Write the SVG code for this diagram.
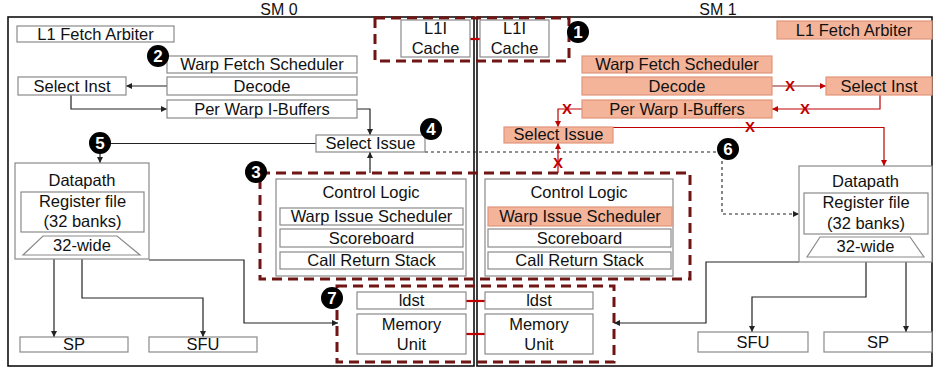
<svg xmlns="http://www.w3.org/2000/svg" width="933" height="370" viewBox="0 0 933 370">
<style>
text{font-family:"Liberation Sans",Arial,sans-serif;font-size:16.5px;fill:#111;text-anchor:middle}
.b{fill:#fff;stroke:#8a8a8a;stroke-width:1.2}
.s{fill:#F4B49A;stroke:#E0957A;stroke-width:1.2}
.frame{fill:none;stroke:#111;stroke-width:1.6}
.dash{fill:none;stroke:#701414;stroke-width:3;stroke-dasharray:10 6}
.c{fill:none;stroke:#222;stroke-width:1.2}
.r{fill:none;stroke:#C00000;stroke-width:1.2}
.rm{fill:none;stroke:#b06868;stroke-width:1.5}
.d{fill:none;stroke:#222;stroke-width:1.1;stroke-dasharray:3 3}
.link{stroke:#C00000;stroke-width:2.2}
.badge circle{fill:#000}
.badge text{fill:#fff;font-weight:bold;font-size:17px}
.x{fill:#C00000;font-weight:bold;font-size:15px}
.t{font-size:16px}
</style>
<defs>
<marker id="a" markerWidth="7" markerHeight="7" refX="6" refY="3" orient="auto" markerUnits="userSpaceOnUse"><path d="M0,0 L6,3 L0,6 z" fill="#222"/></marker>
<marker id="ar" markerWidth="7" markerHeight="7" refX="6" refY="3" orient="auto" markerUnits="userSpaceOnUse"><path d="M0,0 L6,3 L0,6 z" fill="#C00000"/></marker>
</defs>

<g id="frames">
<rect class="frame" x="8" y="17" width="466" height="349"/>
<rect class="frame" x="477" y="17" width="455" height="349"/>
<text class="t" x="279" y="15">SM 0</text>
<text class="t" x="718" y="15">SM 1</text>
</g>

<g id="groups">
<rect class="dash" x="375" y="18" width="194" height="43"/>
<rect class="dash" x="260" y="173" width="430" height="106"/>
<rect class="dash" x="337" y="286" width="277" height="76"/>
</g>

<g id="connectors">
<path class="c" d="M167,86 H126" marker-end="url(#a)"/>
<path class="c" d="M71,95 V109 H167" marker-end="url(#a)"/>
<path class="c" d="M357,109 H370 V135" marker-end="url(#a)"/>
<path class="c" d="M316,143.5 H100 V163" marker-end="url(#a)"/>
<path class="c" d="M370,173 V152" marker-end="url(#a)"/>
<path class="c" d="M54,259 V337" marker-end="url(#a)"/>
<path class="c" d="M82,259 V298 H203 V337" marker-end="url(#a)"/>
<path class="c" d="M149,260 H244 V323 H338" marker-end="url(#a)"/>
<path class="d" d="M425,152 H722 V214 H799" marker-end="url(#a)"/>
<path class="rm" d="M772,86 H826" marker-end="url(#ar)"/>
<path class="r" d="M880,95 V109 H772" marker-end="url(#ar)"/>
<path class="r" d="M582,109 H558 V127" marker-end="url(#ar)"/>
<path class="r" d="M613,127.5 H884 V166" marker-end="url(#ar)"/>
<path class="r" d="M558,173 V143" marker-end="url(#ar)"/>
<path class="c" d="M799,262 H706 V323 H614" marker-end="url(#a)"/>
<path class="c" d="M866,262 V297 H752 V332" marker-end="url(#a)"/>
<path class="c" d="M906,262 V332" marker-end="url(#a)"/>
<line class="link" x1="470" y1="39" x2="480" y2="39"/>
<line class="link" x1="466" y1="301" x2="485" y2="301"/>
<line class="link" x1="466" y1="334" x2="485" y2="334"/>
<text class="x" x="790" y="91">X</text>
<text class="x" x="805" y="114">X</text>
<text class="x" x="567" y="114">X</text>
<text class="x" x="750" y="132">X</text>
<text class="x" x="558" y="168">X</text>
</g>

<g id="sm0-l1-fetch-arbiter"><rect class="b" x="17" y="26" width="157" height="16"/><text x="95.5" y="40">L1 Fetch Arbiter</text></g>
<g id="sm0-l1i-cache"><rect class="b" x="401" y="20" width="69" height="37"/><text x="435.5" y="34">L1I</text><text x="435.5" y="54">Cache</text></g>
<g id="sm1-l1i-cache"><rect class="b" x="480" y="20" width="69" height="37"/><text x="514.5" y="34">L1I</text><text x="514.5" y="54">Cache</text></g>
<g id="sm0-warp-fetch"><rect class="b" x="167" y="56" width="190" height="17"/><text x="262" y="70">Warp Fetch Scheduler</text></g>
<g id="sm0-decode"><rect class="b" x="167" y="77" width="190" height="18"/><text x="262" y="92">Decode</text></g>
<g id="sm0-select-inst"><rect class="b" x="18" y="77" width="108" height="18"/><text x="72" y="92">Select Inst</text></g>
<g id="sm0-ibuffers"><rect class="b" x="167" y="100" width="190" height="18"/><text x="262" y="115">Per Warp I-Buffers</text></g>
<g id="sm0-select-issue"><rect class="b" x="316" y="135" width="109" height="17"/><text x="370.5" y="149">Select Issue</text></g>
<g id="sm0-datapath">
<rect class="b" x="15" y="163" width="134" height="96"/>
<text x="82" y="186">Datapath</text>
<rect class="b" x="21" y="192" width="123" height="40"/>
<text x="82.5" y="207">Register file</text>
<text x="82.5" y="227">(32 banks)</text>
<path class="b" d="M43,236 H117 L140,255 H23 Z"/>
<text x="82" y="251">32-wide</text>
</g>
<g id="sm0-sp"><rect class="b" x="20" y="337" width="108" height="15"/><text x="74" y="350">SP</text></g>
<g id="sm0-sfu"><rect class="b" x="149" y="337" width="108" height="15"/><text x="203" y="350">SFU</text></g>
<g id="sm0-control">
<rect class="b" x="276" y="179" width="190" height="97"/>
<text x="371" y="198">Control Logic</text>
<rect class="b" x="280" y="208" width="183" height="17"/><text x="371.5" y="222">Warp Issue Scheduler</text>
<rect class="b" x="280" y="229" width="183" height="18"/><text x="371.5" y="244">Scoreboard</text>
<rect class="b" x="280" y="252" width="183" height="17"/><text x="371.5" y="266">Call Return Stack</text>
</g>
<g id="sm0-ldst"><rect class="b" x="357" y="292" width="109" height="17"/><text x="411.5" y="306">ldst</text></g>
<g id="sm0-memory"><rect class="b" x="357" y="314" width="109" height="40"/><text x="411.5" y="330">Memory</text><text x="411.5" y="350">Unit</text></g>

<g id="sm1-l1-fetch-arbiter"><rect class="s" x="777" y="21" width="155" height="18"/><text x="854" y="36">L1 Fetch Arbiter</text></g>
<g id="sm1-warp-fetch"><rect class="s" x="582" y="56" width="190" height="17"/><text x="677" y="70">Warp Fetch Scheduler</text></g>
<g id="sm1-decode"><rect class="s" x="582" y="77" width="190" height="18"/><text x="677" y="92">Decode</text></g>
<g id="sm1-select-inst"><rect class="s" x="826" y="77" width="106" height="18"/><text x="879" y="92">Select Inst</text></g>
<g id="sm1-ibuffers"><rect class="s" x="582" y="100" width="190" height="18"/><text x="677" y="115">Per Warp I-Buffers</text></g>
<g id="sm1-select-issue"><rect class="s" x="504" y="127" width="109" height="16"/><text x="558.5" y="140">Select Issue</text></g>
<g id="sm1-control">
<rect class="b" x="485" y="179" width="188" height="97"/>
<text x="579" y="198">Control Logic</text>
<rect class="s" x="488" y="207" width="184" height="19"/><text x="580" y="222">Warp Issue Scheduler</text>
<rect class="b" x="488" y="229" width="183" height="18"/><text x="579.5" y="244">Scoreboard</text>
<rect class="b" x="488" y="252" width="183" height="17"/><text x="579.5" y="266">Call Return Stack</text>
</g>
<g id="sm1-datapath">
<rect class="b" x="799" y="166" width="133" height="96"/>
<text x="865.5" y="187">Datapath</text>
<rect class="b" x="804" y="193" width="124" height="41"/>
<text x="866" y="208">Register file</text>
<text x="866" y="229">(32 banks)</text>
<path class="b" d="M820,237 H910 L924,257 H807 Z"/>
<text x="865.5" y="252">32-wide</text>
</g>
<g id="sm1-sfu"><rect class="b" x="698" y="332" width="110" height="20"/><text x="753" y="348">SFU</text></g>
<g id="sm1-sp"><rect class="b" x="824" y="332" width="108" height="20"/><text x="878" y="348">SP</text></g>
<g id="sm1-ldst"><rect class="b" x="485" y="292" width="108" height="17"/><text x="539" y="306">ldst</text></g>
<g id="sm1-memory"><rect class="b" x="485" y="314" width="108" height="40"/><text x="539" y="330">Memory</text><text x="539" y="350">Unit</text></g>

<g id="badges">
<g class="badge" id="badge-1"><circle cx="578" cy="32" r="11"/><text x="578" y="38">1</text></g>
<g class="badge" id="badge-2"><circle cx="158" cy="56" r="11"/><text x="158" y="62">2</text></g>
<g class="badge" id="badge-3"><circle cx="256" cy="172" r="11"/><text x="256" y="178">3</text></g>
<g class="badge" id="badge-4"><circle cx="431" cy="129" r="11"/><text x="431" y="135">4</text></g>
<g class="badge" id="badge-5"><circle cx="100" cy="143" r="11"/><text x="100" y="149">5</text></g>
<g class="badge" id="badge-6"><circle cx="728" cy="149" r="11"/><text x="728" y="155">6</text></g>
<g class="badge" id="badge-7"><circle cx="332" cy="298" r="11"/><text x="332" y="304">7</text></g>
</g>
</svg>
